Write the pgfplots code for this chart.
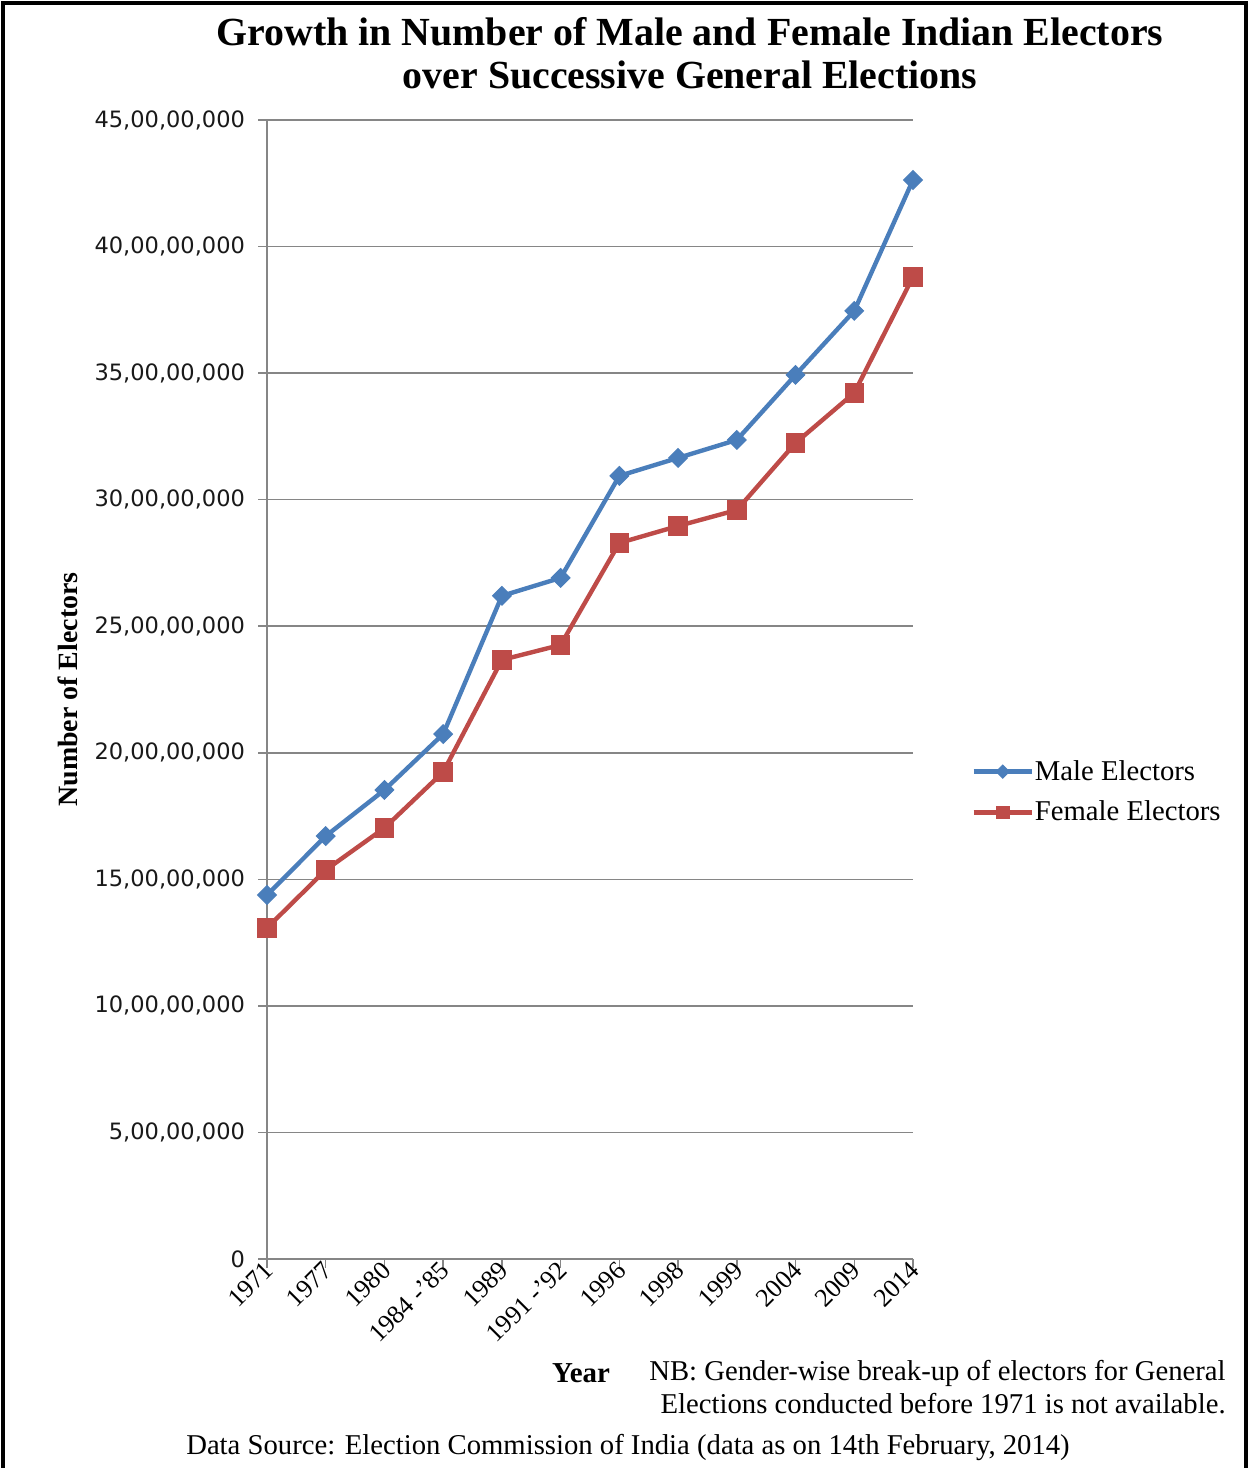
\documentclass[border=0pt]{standalone}
\usepackage{pgfplots}
\pgfplotsset{compat=1.18}
\usepackage{fontspec}
\setmainfont{Liberation Serif}
\newfontfamily\dejavu{DejaVu Sans}
\definecolor{maleblue}{HTML}{4A7EBB}
\definecolor{femred}{HTML}{BE4B48}
\definecolor{gridgray}{HTML}{868686}
\begin{document}
\begin{tikzpicture}
\useasboundingbox (0,0) rectangle (624.5bp,734bp);
\fill[white] (0,0) rectangle (624.5bp,734bp);
\draw[line width=2bp] (1.5bp,0) -- (1.5bp,732.5bp) -- (623bp,732.5bp) -- (623bp,0);
\begin{axis}[
  at={(133.5bp,104.5bp)}, anchor=south west,
  scale only axis, width=323bp, height=569.5bp,
  xmin=0, xmax=11, ymin=0, ymax=450,
  axis x line=bottom, axis y line=left,
  axis line style={-, gridgray, line width=0.75bp},
  tick align=outside, major tick length=4.5bp,
  tick style={gridgray, line width=0.75bp},
  xtick={0,...,11},
  xticklabels={1971,1977,1980,{1984 -'85},1989,{1991 -'92},1996,1998,1999,2004,2009,2014},
  xticklabel style={rotate=45, anchor=east, font=\fontsize{13}{13}\selectfont, inner sep=1bp, xshift=2.5bp},
  ytick={0,50,...,450},
  yticklabels={0,{5,00,00,000},{10,00,00,000},{15,00,00,000},{20,00,00,000},{25,00,00,000},{30,00,00,000},{35,00,00,000},{40,00,00,000},{45,00,00,000}},
  yticklabel style={font=\dejavu\fontsize{11.3}{11.3}\selectfont, text=black!90, xshift=-3bp},
  ymajorgrids, grid style={gridgray, line width=0.75bp},
  legend style={draw=none, fill=none, at={(axis description cs:1.09,0.41)}, anchor=west, inner sep=0pt,
    font=\fontsize{14.4}{14.4}\selectfont, row sep=8bp, cells={anchor=west}, nodes={inner sep=0.5bp}},
  legend image code/.code={\draw[mark repeat=2, mark phase=2, #1, every mark/.append style={scale=0.7}] plot coordinates {(0bp,0bp) (14.5bp,0bp) (29bp,0bp)};},
  legend cell align=left,
]
\addplot[maleblue, line width=2.2bp, mark=square*, mark size=3.3bp, mark options={solid, rotate=45, fill=maleblue, line width=0.5bp}]
coordinates {(0,143.8) (1,167.1) (2,185.3) (3,207.4) (4,262.0) (5,269.1) (6,309.4) (7,316.5) (8,323.6) (9,349.3) (10,374.6) (11,426.3)};
\addlegendentry{Male Electors}
\addplot[femred, line width=2.2bp, mark=square*, mark size=4.6bp, mark options={solid, fill=femred, line width=0.5bp}]
coordinates {(0,130.8) (1,153.7) (2,170.3) (3,192.4) (4,236.7) (5,242.6) (6,282.9) (7,289.6) (8,295.9) (9,322.4) (10,342.2) (11,388.0)};
\addlegendentry{Female Electors}
\end{axis}
\node[font=\bfseries\fontsize{14}{14}\selectfont, rotate=90] at (34bp,389.25bp) {Number of Electors};
\node[font=\bfseries\fontsize{20}{20}\selectfont] at (345bp,718bp) {Growth in Number of Male and Female Indian Electors};
\node[font=\bfseries\fontsize{20}{20}\selectfont] at (345bp,696.5bp) {over Successive General Elections};
\node[font=\bfseries\fontsize{14.5}{14.5}\selectfont] at (290.5bp,47.5bp) {Year};
\node[anchor=east, font=\fontsize{14.4}{14.4}\selectfont, inner sep=0pt] at (613bp,47.5bp) {NB: Gender-wise break-up of electors for General};
\node[anchor=east, font=\fontsize{14.4}{14.4}\selectfont, inner sep=0pt] at (613bp,32bp) {Elections conducted before 1971 is not available.};
\node[font=\fontsize{14.4}{14.4}\selectfont] at (314bp,10.5bp) {Data Source: Election Commission of India (data as on 14th February, 2014)};
\end{tikzpicture}
\end{document}
